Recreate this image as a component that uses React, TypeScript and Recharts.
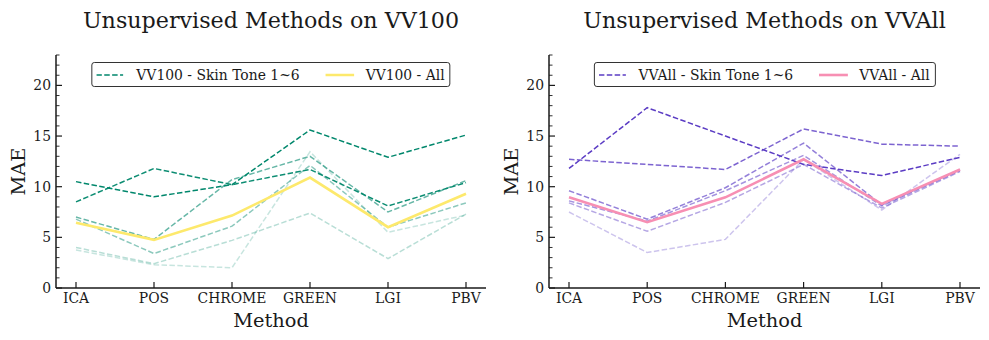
import { LineChart, Line, XAxis, YAxis, Label } from 'recharts'

const methods = ['ICA', 'POS', 'CHROME', 'GREEN', 'LGI', 'PBV']

// VV100 (teal): skin tones 1..6 and the whole set
const vv100Tone1 = [10.5, 9.0, 10.2, 15.6, 12.9, 15.1]
const vv100Tone2 = [8.5, 11.8, 10.2, 11.7, 8.1, 10.4]
const vv100Tone3 = [7.0, 4.8, 10.7, 13.0, 7.5, 10.6]
const vv100Tone4 = [6.8, 3.4, 6.1, 12.1, 6.0, 8.4]
const vv100Tone5 = [4.0, 2.4, 4.7, 7.4, 2.9, 7.3]
const vv100Tone6 = [3.75, 2.3, 2.0, 13.45, 5.5, 7.2]
const vv100All = [6.45, 4.75, 7.15, 10.9, 6.0, 9.3]

// VVAll (purple)
const vvallTone1 = [11.8, 17.8, 15.0, 12.2, 11.1, 12.9]
const vvallTone2 = [12.7, 12.2, 11.7, 15.7, 14.2, 14.0]
const vvallTone3 = [9.6, 6.8, 9.9, 14.3, 8.2, 11.7]
const vvallTone4 = [8.6, 6.6, 9.6, 13.1, 8.1, 11.6]
const vvallTone5 = [8.4, 5.6, 8.45, 12.2, 7.9, 11.5]
const vvallTone6 = [7.5, 3.5, 4.8, 12.7, 7.7, 13.2]
const vvallAll = [8.95, 6.5, 8.95, 12.7, 8.3, 11.7]

const majorTicks = [0, 5, 10, 15, 20]
const yTicks = Array.from({ length: 24 }, (_, i) => i)

const FONT = '"DejaVu Serif", serif'
const INK = '#1a1a1a'

function buildRows(tones: number[][], all: number[]) {
  return methods.map((m, i) => {
    const row: Record<string, number | string> = { method: m, all: all[i] }
    tones.forEach((t, k) => {
      row[`t${k + 1}`] = t[i]
    })
    return row
  })
}

function YTick({ x, y, payload }: any) {
  const major = majorTicks.includes(payload.value)
  return (
    <g>
      <line x1={x} x2={x + (major ? 6 : 3.5)} y1={y} y2={y} stroke={INK} strokeWidth={major ? 1.2 : 0.9} />
      {major && (
        <text x={x - 5} y={y} dy="0.36em" textAnchor="end" style={{ fontFamily: FONT, fontSize: 13.9, fill: INK }}>
          {payload.value}
        </text>
      )}
    </g>
  )
}

function XTick({ x, y, payload }: any) {
  return (
    <g>
      <line x1={x} x2={x} y1={y} y2={y - 6} stroke={INK} strokeWidth={1.2} />
      <text x={x} y={y} dy={15} textAnchor="middle" style={{ fontFamily: FONT, fontSize: 13.9, fill: INK }}>
        {payload.value}
      </text>
    </g>
  )
}

type PanelProps = {
  left: number
  width: number
  marginLeft: number
  marginRight: number
  title: string
  name: string
  toneColor: string
  toneOpacity: number[]
  allColor: string
  tones: number[][]
  all: number[]
}

function Panel(p: PanelProps) {
  const data = buildRows(p.tones, p.all)
  const plotLeft = p.marginLeft + 40
  const plotCenter = (plotLeft + p.width - p.marginRight) / 2
  return (
    <div style={{ position: 'absolute', left: p.left, top: 0, width: p.width, height: 340 }}>
      <div
        style={{
          position: 'absolute',
          top: 9,
          left: plotCenter,
          transform: 'translateX(-50%)',
          whiteSpace: 'nowrap',
          fontFamily: FONT,
          fontSize: 22.2,
          lineHeight: 1,
          color: INK,
        }}
      >
        {p.title}
      </div>
      <LineChart
        width={p.width}
        height={340}
        data={data}
        margin={{ top: 55, right: p.marginRight, bottom: 0, left: p.marginLeft }}
      >
        <XAxis
          dataKey="method"
          height={52}
          padding={{ left: 20, right: 20 }}
          tickLine={false}
          tickSize={0}
          tickMargin={0}
          tick={<XTick />}
          interval={0}
          axisLine={{ stroke: INK, strokeWidth: 1.5 }}
        >
          <Label value="Method" position="insideBottom" offset={13.5} style={{ fontFamily: FONT, fontSize: 19.4, fill: INK }} />
        </XAxis>
        <YAxis
          width={40}
          domain={[0, 23]}
          ticks={yTicks}
          interval={0}
          tickLine={false}
          tickSize={0}
          tickMargin={0}
          tick={<YTick />}
          axisLine={{ stroke: INK, strokeWidth: 1.5 }}
        >
          <Label
            value="MAE"
            angle={-90}
            position="insideLeft"
            offset={2}
            style={{ fontFamily: FONT, fontSize: 19.4, fill: INK, textAnchor: 'middle' }}
          />
        </YAxis>
        {p.tones.map((_, k) => (
          <Line
            key={k}
            dataKey={`t${k + 1}`}
            stroke={p.toneColor}
            strokeOpacity={p.toneOpacity[k]}
            strokeWidth={1.5}
            strokeDasharray="5.5 2.4"
            dot={false}
            activeDot={false}
            isAnimationActive={false}
          />
        ))}
        <Line dataKey="all" stroke={p.allColor} strokeWidth={2.6} dot={false} activeDot={false} isAnimationActive={false} />
      </LineChart>
      <div
        style={{
          position: 'absolute',
          top: 62,
          left: plotCenter,
          transform: 'translateX(-50%)',
          height: 25,
          boxSizing: 'border-box',
          border: '1px solid #333',
          borderRadius: 3,
          background: 'rgba(255,255,255,0.8)',
          display: 'flex',
          alignItems: 'center',
          padding: '0 5px 0 4px',
          whiteSpace: 'nowrap',
          fontFamily: FONT,
          fontSize: 13.9,
          color: INK,
        }}
      >
        <svg width={27} height={10} style={{ marginRight: 13 }}>
          <line x1={0} x2={27} y1={5} y2={5} stroke={p.toneColor} strokeWidth={1.5} strokeDasharray="5.5 2.4" />
        </svg>
        <span>{`${p.name} - Skin Tone 1~6`}</span>
        <svg width={29} height={10} style={{ marginLeft: 26, marginRight: 11 }}>
          <line x1={0} x2={29} y1={5} y2={5} stroke={p.allColor} strokeWidth={2.6} />
        </svg>
        <span>{`${p.name} - All`}</span>
      </div>
    </div>
  )
}

export default function App() {
  return (
    <div style={{ position: 'absolute', left: 0, top: 0, width: 989, height: 340, background: '#fff' }}>
      <Panel
        left={0}
        width={494}
        marginLeft={16}
        marginRight={8}
        title="Unsupervised Methods on VV100"
        name="VV100"
        toneColor="#00876c"
        toneOpacity={[1, 0.95, 0.6, 0.45, 0.28, 0.22]}
        allColor="#fde96c"
        tones={[vv100Tone1, vv100Tone2, vv100Tone3, vv100Tone4, vv100Tone5, vv100Tone6]}
        all={vv100All}
      />
      <Panel
        left={494}
        width={495}
        marginLeft={15}
        marginRight={9}
        title="Unsupervised Methods on VVAll"
        name="VVAll"
        toneColor="#5b3cc4"
        toneOpacity={[1, 0.8, 0.65, 0.55, 0.45, 0.3]}
        allColor="#f78fb3"
        tones={[vvallTone1, vvallTone2, vvallTone3, vvallTone4, vvallTone5, vvallTone6]}
        all={vvallAll}
      />
    </div>
  )
}
